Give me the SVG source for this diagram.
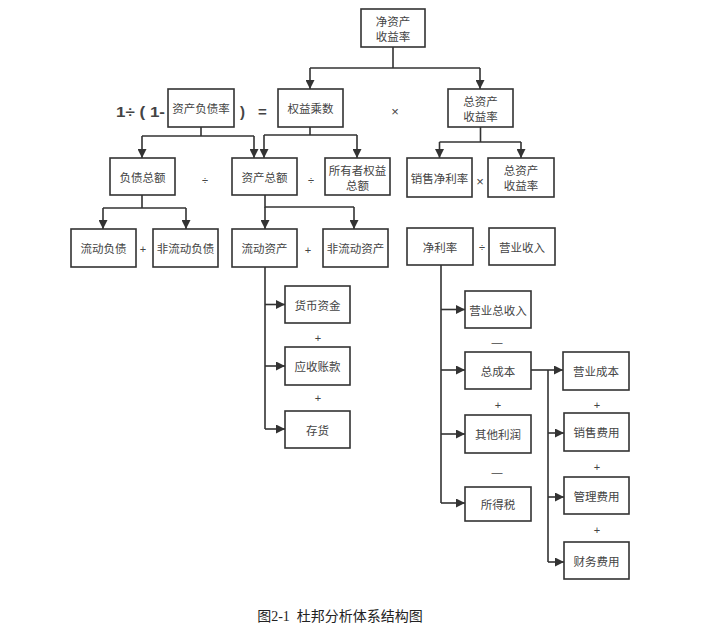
<svg xmlns="http://www.w3.org/2000/svg" width="728" height="630" viewBox="0 0 728 630">
<style>
.b{fill:#fff;stroke:#333;stroke-width:1.6}
.t{font-family:"Noto Sans CJK SC","Liberation Sans",sans-serif;font-size:11.5px;fill:#444;text-anchor:middle;dominant-baseline:central}
.op{font-family:"Liberation Sans","Noto Sans CJK SC",sans-serif;font-size:11px;fill:#444;text-anchor:middle;dominant-baseline:central}
.x{font-family:"Liberation Sans","Noto Sans CJK SC",sans-serif;font-size:13px;fill:#444;text-anchor:middle;dominant-baseline:central}
.big{font-family:"Liberation Sans","Noto Sans CJK SC",sans-serif;font-size:15px;font-weight:bold;fill:#444;dominant-baseline:central}
.c{fill:none;stroke:#333;stroke-width:1.6}
.a{fill:none;stroke:#333;stroke-width:1.6;marker-end:url(#ah)}
.cap{font-family:"Liberation Serif","Noto Sans CJK SC",serif;font-size:14px;fill:#222;text-anchor:middle}
</style>
<defs>
<marker id="ah" viewBox="0 0 10 10" refX="10" refY="5" markerWidth="9" markerHeight="9" markerUnits="userSpaceOnUse" orient="auto">
<path d="M0,0 L10,5 L0,10 z" fill="#333"/>
</marker>
</defs>

<g id="connectors">
<path class="c" d="M393,47 V68 M310,68 H480"/>
<path class="a" d="M310,68 V89"/>
<path class="a" d="M480,68 V89"/>
<path class="c" d="M480.5,127 V142 M439.5,142 H521"/>
<path class="a" d="M439.5,142 V158"/>
<path class="a" d="M521,142 V158"/>
<path class="c" d="M201,127 V136 M142,136 H254"/>
<path class="a" d="M142,136 V158"/>
<path class="a" d="M254,136 V158"/>
<path class="c" d="M310,127 V135 M264,135 H357"/>
<path class="a" d="M264,135 V158"/>
<path class="a" d="M357,135 V158"/>
<path class="c" d="M142,195 V208 M103,208 H186"/>
<path class="a" d="M103,208 V229"/>
<path class="a" d="M186,208 V229"/>
<path class="c" d="M265,195 V207 H354"/>
<path class="a" d="M265,207 V229"/>
<path class="a" d="M354,207 V229"/>
<path class="c" d="M265,267 V429"/>
<path class="a" d="M265,304.5 H285"/>
<path class="a" d="M265,366 H285"/>
<path class="a" d="M265,429 H285"/>
<path class="c" d="M441,265 V503"/>
<path class="a" d="M441,309.5 H465"/>
<path class="a" d="M441,370 H465"/>
<path class="a" d="M441,434 H465"/>
<path class="a" d="M441,503 H465"/>
<path class="a" d="M531,370 H563"/>
<path class="c" d="M548,370 V562"/>
<path class="a" d="M548,433 H564"/>
<path class="a" d="M548,497 H564"/>
<path class="a" d="M548,562 H564"/>
</g>

<g id="n-roe"><rect class="b" x="361" y="9" width="64" height="38"/><text class="t" x="393" y="21">净资产</text><text class="t" x="393" y="36">收益率</text></g>
<g id="n-dar"><rect class="b" x="168" y="89" width="66" height="38"/><text class="t" x="201" y="108">资产负债率</text></g>
<g id="n-em"><rect class="b" x="278" y="89" width="65" height="38"/><text class="t" x="310.5" y="108">权益乘数</text></g>
<g id="n-roa"><rect class="b" x="448" y="89" width="65" height="38"/><text class="t" x="480.5" y="101">总资产</text><text class="t" x="480.5" y="116">收益率</text></g>
<g id="n-debt"><rect class="b" x="110" y="158" width="65" height="37"/><text class="t" x="142.5" y="176.5">负债总额</text></g>
<g id="n-assets"><rect class="b" x="232" y="158" width="65" height="37"/><text class="t" x="264.5" y="176.5">资产总额</text></g>
<g id="n-equity"><rect class="b" x="325" y="158" width="65" height="37"/><text class="t" x="357.5" y="169.5">所有者权益</text><text class="t" x="357.5" y="184.5">总额</text></g>
<g id="n-npm"><rect class="b" x="407" y="158" width="65" height="39"/><text class="t" x="439.5" y="177.5">销售净利率</text></g>
<g id="n-tat"><rect class="b" x="488" y="158" width="66" height="39"/><text class="t" x="521" y="170">总资产</text><text class="t" x="521" y="185">收益率</text></g>
<g id="n-cl"><rect class="b" x="71" y="229" width="65" height="38"/><text class="t" x="103.5" y="248">流动负债</text></g>
<g id="n-ncl"><rect class="b" x="153" y="229" width="65" height="38"/><text class="t" x="185.5" y="248">非流动负债</text></g>
<g id="n-ca"><rect class="b" x="232" y="229" width="65" height="38"/><text class="t" x="264.5" y="248">流动资产</text></g>
<g id="n-nca"><rect class="b" x="323" y="229" width="65" height="38"/><text class="t" x="355.5" y="248">非流动资产</text></g>
<g id="n-np"><rect class="b" x="407" y="228" width="66" height="37"/><text class="t" x="440" y="246.5">净利率</text></g>
<g id="n-rev"><rect class="b" x="489" y="228" width="66" height="37"/><text class="t" x="522" y="246.5">营业收入</text></g>
<g id="n-cash"><rect class="b" x="285" y="286" width="65" height="37"/><text class="t" x="317.5" y="304.5">货币资金</text></g>
<g id="n-ar"><rect class="b" x="285" y="347" width="65" height="38"/><text class="t" x="317.5" y="366">应收账款</text></g>
<g id="n-inv"><rect class="b" x="285" y="411" width="65" height="37"/><text class="t" x="317.5" y="429.5">存货</text></g>
<g id="n-tr"><rect class="b" x="465" y="291" width="66" height="37"/><text class="t" x="498" y="309.5">营业总收入</text></g>
<g id="n-tc"><rect class="b" x="465" y="352" width="66" height="37"/><text class="t" x="498" y="370.5">总成本</text></g>
<g id="n-op"><rect class="b" x="465" y="415" width="66" height="38"/><text class="t" x="498" y="434">其他利润</text></g>
<g id="n-tax"><rect class="b" x="465" y="487" width="66" height="34"/><text class="t" x="498" y="504">所得税</text></g>
<g id="n-oc"><rect class="b" x="563" y="352" width="66" height="38"/><text class="t" x="596" y="371">营业成本</text></g>
<g id="n-se"><rect class="b" x="564" y="413" width="65" height="38"/><text class="t" x="596.5" y="432">销售费用</text></g>
<g id="n-ae"><rect class="b" x="564" y="477" width="65" height="37"/><text class="t" x="596.5" y="495.5">管理费用</text></g>
<g id="n-fe"><rect class="b" x="564" y="542" width="65" height="37"/><text class="t" x="596.5" y="560.5">财务费用</text></g>

<g id="operators">
<text class="big" x="116" y="111" xml:space="preserve" textLength="49" lengthAdjust="spacingAndGlyphs">1÷ ( 1-</text>
<text class="big" x="240" y="111">)</text>
<text class="big" x="258" y="111">=</text>
<text class="x" x="395" y="111">×</text>
<text class="x" x="480" y="181">×</text>
<text class="op" x="205" y="180">÷</text>
<text class="op" x="311" y="180">÷</text>
<text class="op" x="482" y="247">÷</text>
<text class="op" x="143" y="249">+</text>
<text class="op" x="308" y="250">+</text>
<text class="op" x="318" y="338">+</text>
<text class="op" x="318" y="398">+</text>
<text class="op" x="498" y="405">+</text>
<text class="op" x="597" y="405">+</text>
<text class="op" x="597" y="467">+</text>
<text class="op" x="597" y="530">+</text>
<text class="op" x="497" y="342">—</text>
<text class="op" x="497" y="472">—</text>
</g>

<text class="cap" x="340" y="621" xml:space="preserve">图2-1  杜邦分析体系结构图</text>
</svg>
